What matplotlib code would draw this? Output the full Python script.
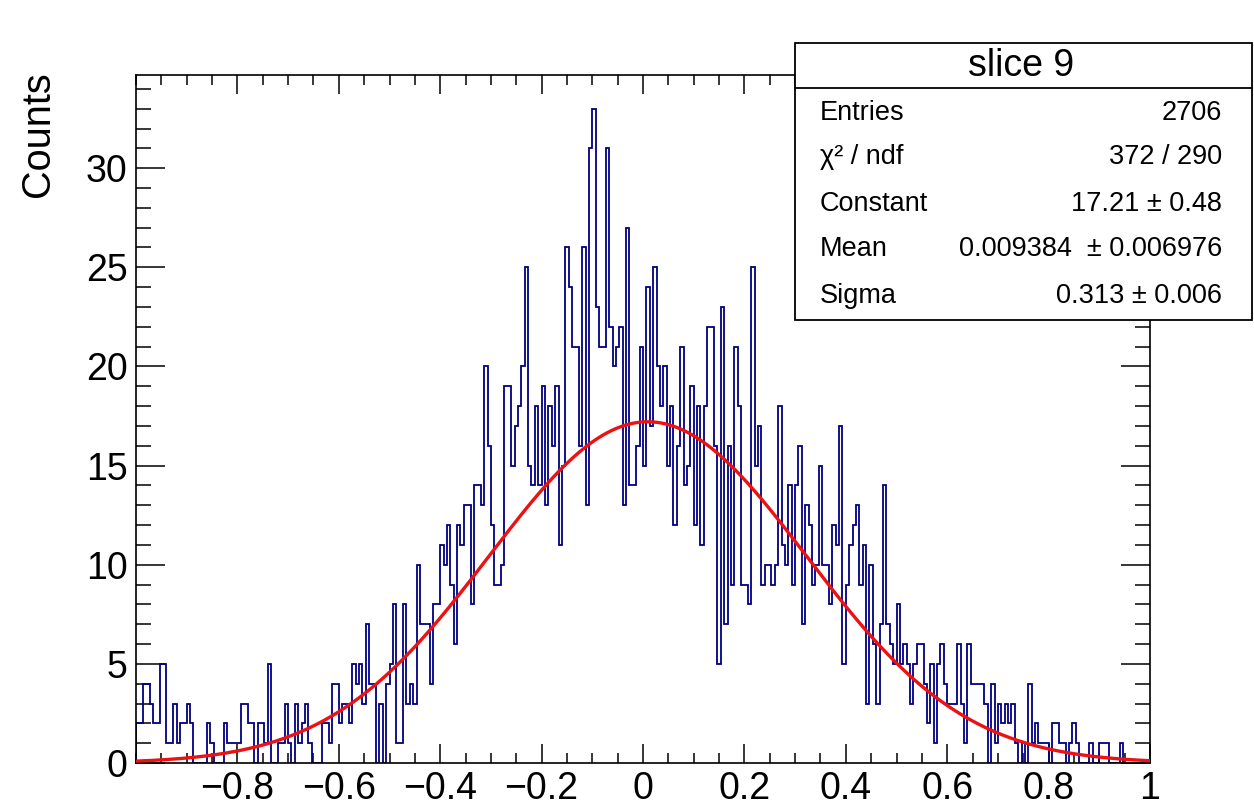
import numpy as np
import matplotlib
matplotlib.use('Agg')
import matplotlib.pyplot as plt
from matplotlib.ticker import MultipleLocator, FixedLocator
from matplotlib.patches import Rectangle
from matplotlib.lines import Line2D

plt.rcParams['font.family'] = ['Liberation Sans', 'DejaVu Sans']

# ---------------- data ----------------
x_min, x_max = -1.0, 1.0
n_bins = 300

counts = (
    [2, 2, 4, 4, 3, 2, 2, 5, 5, 1, 1, 3, 1, 2, 2, 3, 2, 0, 0, 0,
     0, 2, 1, 0, 0, 0, 2, 1, 1, 1, 1, 3, 3, 2, 2, 0, 2]                      # 0-36
    + [2, 1, 5, 0, 0, 1, 1, 3, 1, 0, 3, 1, 2, 3, 1, 0, 0, 0, 2, 2,
       1, 4, 4, 2, 3, 3, 2, 5, 4, 5, 3, 7, 4, 4, 0, 3, 0]                    # 37-73
    + [4, 5, 8, 1, 1, 8, 3, 4, 3, 10, 7, 7, 7, 4, 8, 8, 11, 10, 12, 9,
       6, 12, 11, 13, 13, 8, 14, 14, 13, 20, 16, 12, 9, 9, 10, 19, 19, 15]   # 74-111
    + [17, 18, 20, 25, 15, 14, 18, 14, 19, 13, 18, 16, 19, 11, 15, 26, 24, 21, 21, 16,
       26, 13, 31, 33, 23, 21, 21, 31, 22, 20, 21, 22, 13, 27, 14, 14]       # 112-147
    + [16, 21, 15, 24, 17, 25, 20, 18, 20, 15, 18, 12, 16, 21, 14, 15, 19, 12, 18, 11,
       18, 22, 22, 16, 5, 23, 7, 16, 9, 21, 18, 9, 9, 8, 25, 15, 17, 9]      # 148-185
    + [10, 10, 9, 10, 18, 11, 10, 14, 9, 14, 16, 7, 13, 12, 9, 10, 15, 10, 10, 8,
       12, 11, 17, 5, 9, 11, 12, 13, 9, 11, 3, 10, 6, 3, 7, 14]              # 186-221
    + [7, 6, 5, 8, 5, 6, 5, 3, 5, 6, 6, 4, 2, 5, 1, 5, 6, 4, 3, 3,
       3, 6, 3, 1, 6, 4, 4, 4, 4, 3, 0, 4, 1, 3, 2, 3, 2]                    # 222-258
    + [3, 1, 0, 1, 0, 4, 1, 2, 1, 1, 1, 0, 2, 2, 1, 1, 0, 1, 2, 1,
       0, 0, 0, 1, 0, 0, 1, 1, 1, 0, 0, 0, 1, 0, 0, 0, 0, 0, 0, 0, 0]        # 259-299
)

fit_constant = 17.21
fit_mean = 0.009384
fit_sigma = 0.313

stats_title = "slice 9"
stats_labels = ["Entries", "\u03c7\u00b2 / ndf", "Constant", "Mean", "Sigma"]
stats_values = ["2706", "372 / 290", "17.21 \u00b1 0.48",
                "0.009384  \u00b1 0.006976", "0.313 \u00b1 0.006"]

x_ticks = [-0.8, -0.6, -0.4, -0.2, 0.0, 0.2, 0.4, 0.6, 0.8, 1.0]
x_tick_labels = ["\u22120.8", "\u22120.6", "\u22120.4", "\u22120.2", "0",
                 "0.2", "0.4", "0.6", "0.8", "1"]
y_ticks = [0, 5, 10, 15, 20, 25, 30]
y_tick_labels = ["0", "5", "10", "15", "20", "25", "30"]
y_label = "Counts"

# ---------------- figure ----------------
W, H = 1254, 807
fig = plt.figure(figsize=(W / 100, H / 100), dpi=100)
fig.patch.set_facecolor('white')

ax_l, ax_r, ax_t, ax_b = 136, 1150, 75, 763
ax = fig.add_axes([ax_l / W, 1 - ax_b / H, (ax_r - ax_l) / W, (ax_b - ax_t) / H])

edges = np.linspace(x_min, x_max, n_bins + 1)
ax.stairs(counts, edges, color='#000080', lw=1.3, baseline=0, zorder=2)

xs = np.linspace(x_min, x_max, 500)
ys = fit_constant * np.exp(-0.5 * ((xs - fit_mean) / fit_sigma) ** 2)
ax.plot(xs, ys, color='#ee1111', lw=2.4, zorder=3)

ax.set_xlim(x_min, x_max)
ax.set_ylim(0, 34.7)

ax.xaxis.set_major_locator(FixedLocator(x_ticks))
ax.set_xticklabels(x_tick_labels)
ax.xaxis.set_minor_locator(MultipleLocator(0.05))
ax.yaxis.set_major_locator(FixedLocator(y_ticks))
ax.set_yticklabels(y_tick_labels)
ax.yaxis.set_minor_locator(MultipleLocator(1))

ax.tick_params(axis='x', which='major', direction='in', length=14, width=1.1,
               top=True, bottom=True, labelsize=27, pad=6, colors='black')
ax.tick_params(axis='x', which='minor', direction='in', length=7, width=1.1,
               top=True, bottom=True)
ax.tick_params(axis='y', which='major', direction='in', length=21, width=1.1,
               left=True, right=True, labelsize=27, pad=6)
ax.tick_params(axis='y', which='minor', direction='in', length=10.5, width=1.1,
               left=True, right=True)
for s in ax.spines.values():
    s.set_linewidth(1.2)
    s.set_color('black')

fig.text(38 / W, 1 - 71 / H, y_label, rotation=90, ha='center', va='top', fontsize=28.5)

# ---------------- stats box ----------------
bx0, bx1, by0, by1, bdiv = 795, 1252, 43, 320, 88
box = Rectangle((bx0 / W, 1 - by1 / H), (bx1 - bx0) / W, (by1 - by0) / H,
                transform=fig.transFigure, facecolor='white', edgecolor='black',
                lw=1.3, zorder=5)
fig.add_artist(box)
fig.add_artist(Line2D([bx0 / W, bx1 / W], [1 - bdiv / H, 1 - bdiv / H],
                      transform=fig.transFigure, color='black', lw=1.3, zorder=6))
fig.text((bx0 + bx1) / 2 / W - 0.002, 1 - 66 / H, stats_title, ha='center', va='center',
         fontsize=27, zorder=7)
row_y = [113, 157, 204, 249, 296]
for lab, val, yy in zip(stats_labels, stats_values, row_y):
    fig.text(820 / W, 1 - yy / H, lab, ha='left', va='center', fontsize=19.5, zorder=7)
    fig.text(1222 / W, 1 - yy / H, val, ha='right', va='center', fontsize=19.5, zorder=7)

fig.savefig('out.png', dpi=100, facecolor='white')
